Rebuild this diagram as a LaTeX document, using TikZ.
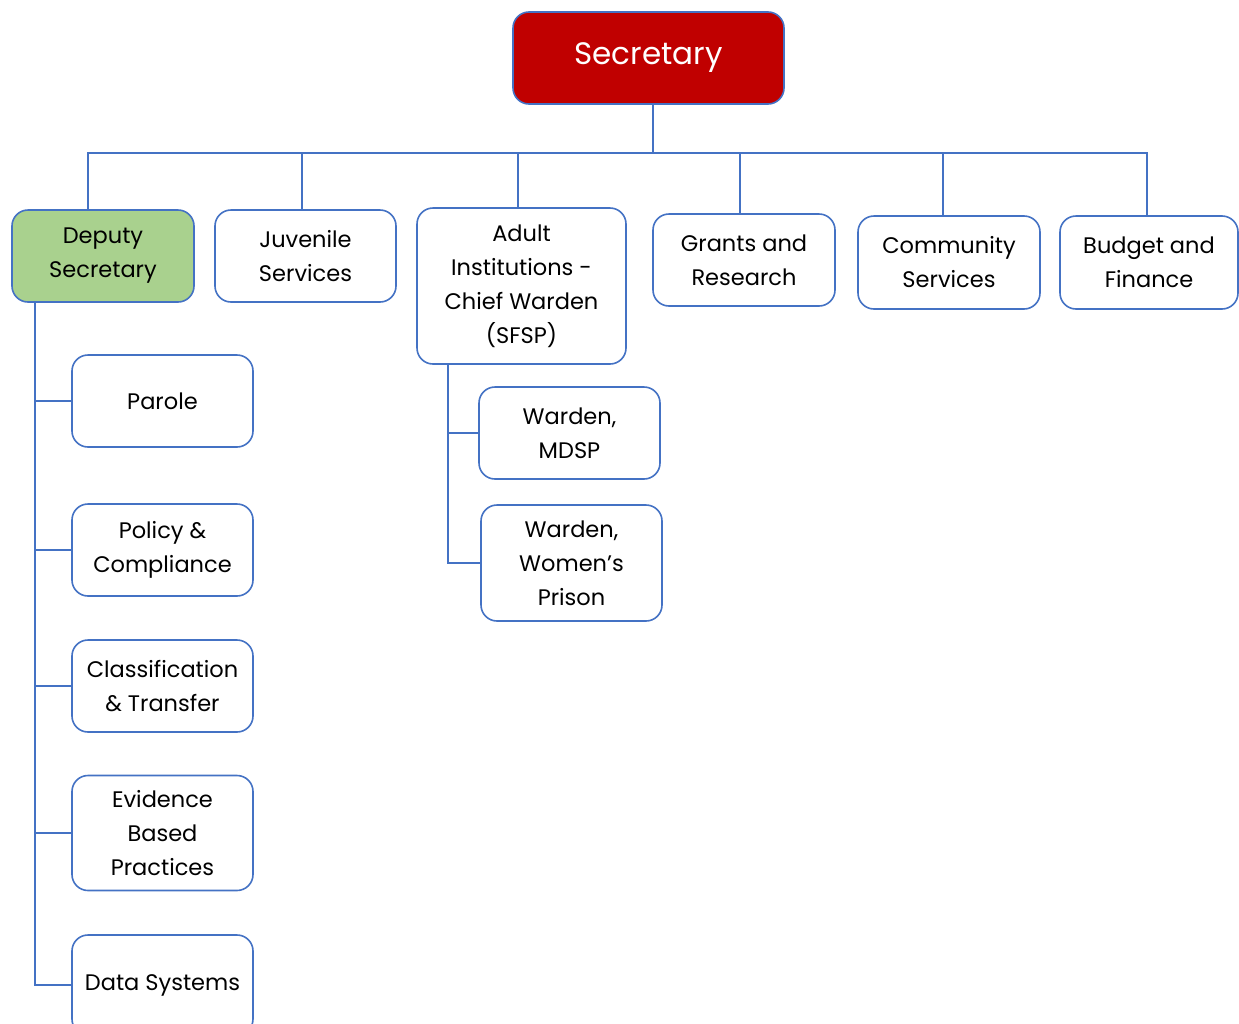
\documentclass[tikz,border=0pt]{standalone}
\usepackage{fontspec}
\setmainfont{Poppins}
\definecolor{secred}{HTML}{C00000}
\definecolor{depgreen}{HTML}{A9D18E}
\definecolor{lineblue}{HTML}{4472C4}
\tikzset{
  unit/.style={draw=lineblue, line width=1.6pt, rounded corners=16pt, fill=white,
    align=center, inner sep=0pt, minimum width=181pt, minimum height=92pt,
    font=\fontsize{22.5}{34}\selectfont},
  link/.style={draw=lineblue, line width=1.6pt},
}
\begin{document}
\begin{tikzpicture}[x=1pt, y=-1pt]
  \useasboundingbox (0,0) rectangle (1239,1023);

  % Top box
  \node[unit, fill=secred, text=white, minimum width=271pt, font=\fontsize{31}{36}\selectfont]
    (sec) at (648.5,58) {Secretary};

  % Second row
  \node[unit, fill=depgreen, minimum width=182pt] (dep) at (103,256) {Deputy\\Secretary};
  \node[unit] (juv) at (305.5,256) {Juvenile\\Services};
  \node[unit, minimum width=209pt, minimum height=156pt] (adult) at (521.5,286)
    {Adult\\Institutions -\\Chief Warden\\(SFSP)};
  \node[unit, minimum width=182pt] (grants) at (744,260) {Grants and\\Research};
  \node[unit, minimum width=182pt, minimum height=93pt] (comm) at (949,262.5) {Community\\Services};
  \node[unit, minimum width=178pt, minimum height=93pt] (budget) at (1149,262.5) {Budget and\\Finance};

  % Under the deputy
  \node[unit] (parole) at (162.5,401) {Parole};
  \node[unit] (policy) at (162.5,550) {Policy \&\\Compliance};
  \node[unit] (class) at (162.5,686) {Classification\\\& Transfer};
  \node[unit, minimum height=115pt] (evid) at (162.5,833) {Evidence\\Based\\Practices};
  \node[unit, minimum height=100pt] (data) at (162.5,985) {Data Systems};

  % Under adult institutions
  \node[unit] (mdsp) at (569.5,433) {Warden,\\MDSP};
  \node[unit, minimum height=116pt] (women) at (571.5,563) {Warden,\\Women’s\\Prison};

  % Connectors
  \draw[link] ([xshift=4.5pt]sec.south) -- ++(0,48) coordinate (bus);
  \draw[link] ([xshift=-15pt]dep.north) |- (bus) -| ([xshift=-2pt]budget.north);
  \draw[link] ([xshift=-3.5pt]juv.north) -- ([xshift=-3.5pt]juv.north |- bus);
  \draw[link] ([xshift=-3.5pt]adult.north) -- ([xshift=-3.5pt]adult.north |- bus);
  \draw[link] ([xshift=-4pt]grants.north) -- ([xshift=-4pt]grants.north |- bus);
  \draw[link] ([xshift=-6pt]comm.north) -- ([xshift=-6pt]comm.north |- bus);

  \foreach \n in {parole,policy,class,evid,data}
    \draw[link] ([xshift=24pt]dep.south west) |- (\n.west);
  \foreach \n in {mdsp,women}
    \draw[link] ([xshift=31.5pt]adult.south west) |- (\n.west);
\end{tikzpicture}
\end{document}
